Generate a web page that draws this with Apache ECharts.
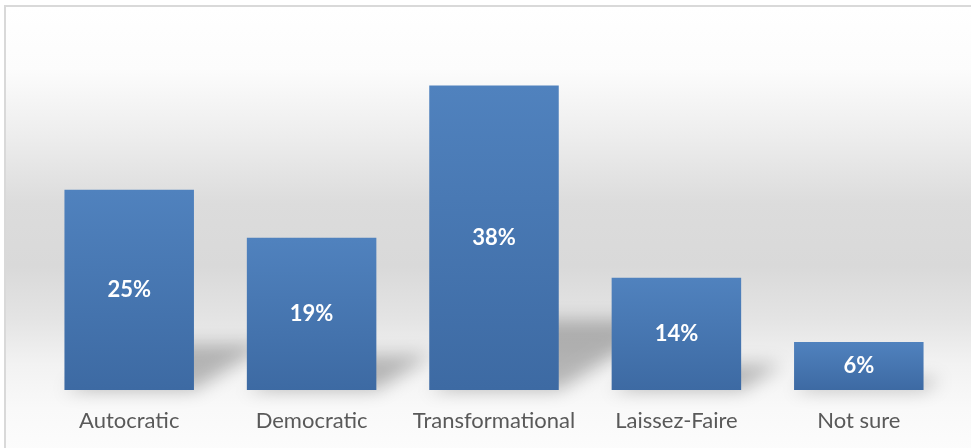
<!DOCTYPE html>
<html>
<head>
<meta charset="utf-8">
<script src="https://cdn.jsdelivr.net/npm/echarts@6/dist/echarts.min.js"></script>
<style>
  html, body { margin: 0; padding: 0; background: #ffffff; }
  #frame {
    position: absolute; left: 4px; top: 5px; width: 975px; height: 450px;
    box-sizing: border-box; border: 2px solid #d9d9d9;
    background: linear-gradient(to bottom, #ffffff 0%, #fcfcfc 14%, #ececec 30%, #dcdcdc 44%, #d9d9d9 58%, #e4e4e4 70%, #f2f2f2 80%, #f9f9f9 90%, #fcfcfc 100%);
  }
  #chart { position: absolute; left: 0; top: 0; width: 971px; height: 448px; }
</style>
</head>
<body>
<div id="frame"></div>
<div id="chart"></div>
<script>
// Leadership style preference, share of respondents (%)
const categories = ['Autocratic', 'Democratic', 'Transformational', 'Laissez-Faire', 'Not sure'];
const shares = [25, 19, 38, 14, 6];

const chart = echarts.init(document.getElementById('chart'), null, { renderer: 'canvas' });

// Soft perspective shadow lying on the floor behind each bar
function renderShadow(params, api) {
  const idx = api.value(0);
  const base = api.coord([idx, 0]);
  const top = api.coord([idx, api.value(1)]);
  const bw = api.size([1, 0])[0] * 0.71;
  const h = base[1] - top[1];
  const hs = h * 0.23;
  const s = hs * 1.6;
  const xl = base[0] - bw / 2, xr = base[0] + bw / 2, y = base[1];
  const off = 3000;
  return {
    type: 'polygon',
    shape: { points: [[xl - off, y], [xr - off, y], [xr + s - off, y - hs], [xl + s - off, y - hs]] },
    style: {
      fill: '#000',
      shadowColor: 'rgba(0,0,0,0.26)',
      shadowBlur: 18,
      shadowOffsetX: off,
      shadowOffsetY: 0
    },
    z2: 0
  };
}

chart.setOption({
  animation: false,
  backgroundColor: 'transparent',
  grid: { left: 38, right: 21, top: 69.5, bottom: 58 },
  xAxis: {
    type: 'category',
    data: categories,
    axisLine: { show: false },
    axisTick: { show: false },
    axisLabel: {
      interval: 0,
      margin: 20,
      color: '#595959',
      fontSize: 22,
      fontFamily: 'Lato'
    }
  },
  yAxis: {
    type: 'value',
    min: 0,
    max: 40,
    show: false,
    splitLine: { show: false }
  },
  series: [
    {
      type: 'custom',
      renderItem: renderShadow,
      data: shares.map((v, i) => [i, v]),
      clip: false,
      silent: true,
      z: 1
    },
    {
      type: 'bar',
      data: shares,
      barWidth: '71%',
      z: 2,
      itemStyle: {
        color: new echarts.graphic.LinearGradient(0, 0, 0, 1, [
          { offset: 0, color: '#5082be' },
          { offset: 1, color: '#3d6aa3' }
        ])
      },
      label: {
        show: true,
        position: 'inside',
        formatter: '{c}%',
        color: '#ffffff',
        fontSize: 22,
        fontWeight: 'bold',
        fontFamily: 'Lato'
      }
    }
  ]
});
</script>
</body>
</html>
